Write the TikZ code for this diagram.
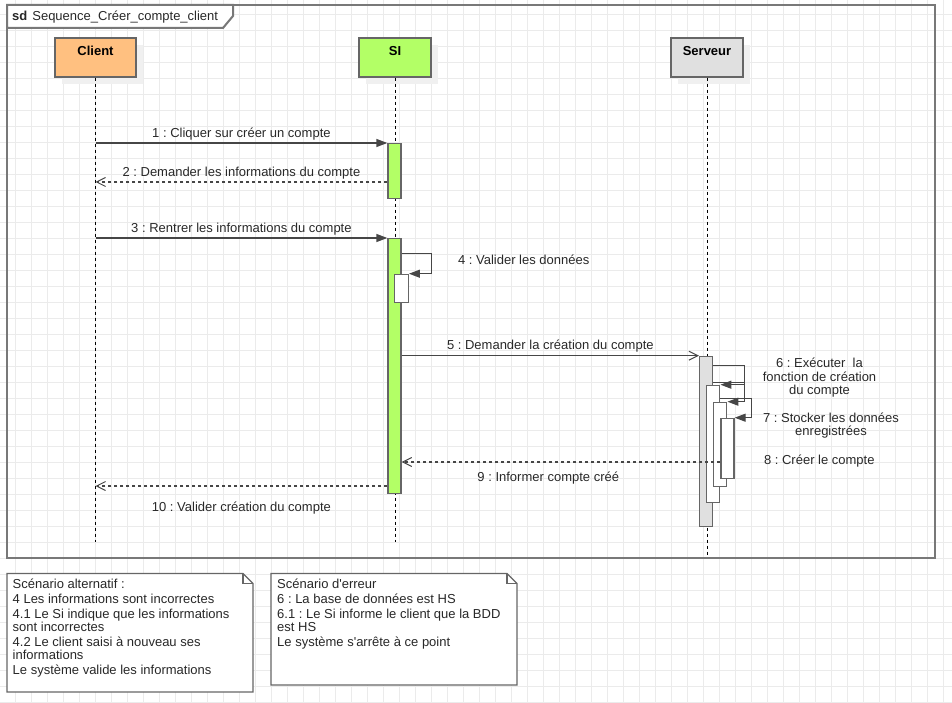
\documentclass[tikz,border=0pt]{standalone}
\usepackage{fontspec}
\setmainfont{Liberation Sans}
\usetikzlibrary{arrows.meta,shadows}
\frenchspacing

\definecolor{gridgray}{RGB}{235,235,235}
\definecolor{framegray}{RGB}{120,120,120}
\definecolor{linegray}{RGB}{102,102,102}
\definecolor{msggray}{RGB}{70,70,70}
\definecolor{txtgray}{RGB}{40,40,40}
\definecolor{clientorange}{RGB}{255,192,128}
\definecolor{sigreen}{RGB}{179,255,102}
\definecolor{servergray}{RGB}{224,224,224}

\tikzset{
  gridline/.style={draw=gridgray, line width=1pt},
  frame/.style={draw=framegray, line width=2pt},
  head/.style={draw=linegray, line width=1.3pt, minimum height=39pt, inner sep=0pt,
    text height=18pt, text depth=21pt, font=\fontsize{13}{15}\selectfont\bfseries,
    drop shadow={shadow xshift=7pt, shadow yshift=-7pt, fill=black!6, opacity=1}},
  lifeline/.style={dash pattern=on 3pt off 3pt, line width=1pt},
  act/.style={draw=linegray, line width=1.3pt, minimum width=13pt, inner sep=0pt, anchor=north, fill=white},
  sync/.style={draw=msggray, line width=1.3pt, -{Triangle[length=11pt,width=8pt]}},
  async/.style={draw=msggray, line width=1.3pt, -{Straight Barb[length=9pt,width=9pt,line width=1pt]}},
  reply/.style={async, dash pattern=on 3pt off 3pt},
  msglabel/.style={font=\fontsize{13}{15}\selectfont, text=txtgray, inner sep=0pt, text height=9.5pt, text depth=2.8pt},
  sidelabel/.style={font=\fontsize{13}{13.4}\selectfont, text=txtgray, inner sep=0pt, align=center},
  note/.style={draw=linegray, line width=1.3pt, fill=white},
  notetext/.style={font=\fontsize{13}{13}\selectfont, text=txtgray, inner sep=0pt, align=left, anchor=north west}
}

\begin{document}
\begin{tikzpicture}[x=1pt,y=-1pt]
\useasboundingbox (0,0) rectangle (952,703);

% grid
\foreach \gx in {15.3,31.3,...,951.3} \draw[gridline] (\gx,0) -- (\gx,703);
\foreach \gy in {14.3,30.3,...,702.3} \draw[gridline] (0,\gy) -- (952,\gy);

% frame
\draw[frame] (7,5) rectangle (935,557.5);
\draw[frame, fill=white] (7,5) -- (233,5) -- (233,16) -- (223,28) -- (7,28) -- cycle;
\node[anchor=base west, inner sep=0pt, font=\fontsize{13}{15}\selectfont, text=txtgray] (sdtitle) at (12,20.5)
  {\textbf{sd}\hspace{5pt}Sequence\_Créer\_compte\_client};

% lifelines
\node[head, fill=clientorange, minimum width=81pt] (client) at (95.5,57.5) {Client};
\node[head, fill=sigreen, minimum width=72pt] (si) at (395,57.5) {SI};
\node[head, fill=servergray, minimum width=72pt] (serveur) at (707,57.5) {Serveur};

\draw[lifeline] (client.south) -- ++(0,464);
\draw[lifeline] (si.south) -- ++(0,464);
\draw[lifeline] (serveur.south) -- ++(0,479);

% activations
\node[act, fill=sigreen, minimum height=55pt] (a1) at (394.5,143) {};
\node[act, fill=sigreen, minimum height=255pt] (a2) at (394.5,238) {};
\node[act, minimum height=28pt, minimum width=13.6pt] (a4) at (401.5,273.7) {};
\node[act, fill=servergray, minimum height=170pt] (s5) at (706.2,355.7) {};
\node[act, minimum height=117pt] (s6) at (713.3,384.7) {};
\node[act, minimum height=84pt] (s7) at (720.3,401.7) {};
\node[act, minimum height=60pt] (s8) at (727.5,417.7) {};

% messages
\coordinate (r2) at (0,182);
\coordinate (r9) at (0,462);
\coordinate (r10) at (0,486);

\draw[sync] (client.center |- a1.north) -- node[msglabel, midway, above=2.5pt] (l1) {1 : Cliquer sur créer un compte} (a1.north west);
\draw[reply] (a1.west |- r2) -- node[msglabel, midway, above=2.5pt] (l2) {2 : Demander les informations du compte} (client.center |- r2);
\draw[sync] (client.center |- a2.north) -- node[msglabel, midway, above=2.5pt] (l3) {3 : Rentrer les informations du compte} (a2.north west);

\draw[sync] ([yshift=-15.7pt]a2.north east) -- ++(30,0) |- (a4.north east);
\node[msglabel, anchor=base] (l4) at (523.7,264) {4 : Valider les données};

\draw[async] (a2.east |- s5.north) -- node[msglabel, midway, above=2.5pt] (l5) {5 : Demander la création du compte} (s5.north west);

\draw[sync] ([yshift=-9.6pt]s5.north east) -- ++(31,0) |- (s6.north east);
\draw[sync] ([yshift=-26.6pt]s5.north east) -- ++(31,0) |- (s7.north east);
\draw[sync] ([yshift=-13.6pt]s6.north east) -- ++(30.7,0) |- (s8.north east);
\node[sidelabel] (l6) at (819.5,377.9) {6 : Exécuter\ \ la\\fonction de création\\du compte};
\node[sidelabel] (l7) at (831,425.6) {7 : Stocker les données\\enregistrées};
\node[msglabel, anchor=base] (l8) at (819.3,464) {8 : Créer le compte};

\draw[reply] (s8.west |- r9) -- node[msglabel, pos=0.54, below=9pt] (l9) {9 : Informer compte créé} (a2.east |- r9);
\draw[reply] (a2.west |- r10) -- node[msglabel, midway, below=15pt] (l10) {10 : Valider création du compte} (client.center |- r10);

% notes
\draw[note] (7,573.5) -- (243,573.5) -- (253,583.5) -- (253,692) -- (7,692) -- cycle;
\draw[linegray, line width=1.3pt] (243,573.5) -- (243,583.5) -- (253,583.5);
\node[notetext] (alttxt) at (12.5,578.5) {Scénario alternatif :\\[2pt]
  4 Les informations sont incorrectes\\[2pt]
  4.1 Le Si indique que les informations\\sont incorrectes\\[2pt]
  4.2 Le client saisi à nouveau ses\\informations\\[2pt]
  Le système valide les informations};

\draw[note] (271,573.5) -- (507,573.5) -- (517,583.5) -- (517,685) -- (271,685) -- cycle;
\draw[linegray, line width=1.3pt] (507,573.5) -- (507,583.5) -- (517,583.5);
\node[notetext] (errtxt) at (277,578.5) {Scénario d\textquotesingle erreur\\[2pt]
  6 : La base de données est HS\\[2pt]
  6.1 : Le Si informe le client que la BDD\\est HS\\[2pt]
  Le système s\textquotesingle arrête à ce point};
\end{tikzpicture}
\end{document}
